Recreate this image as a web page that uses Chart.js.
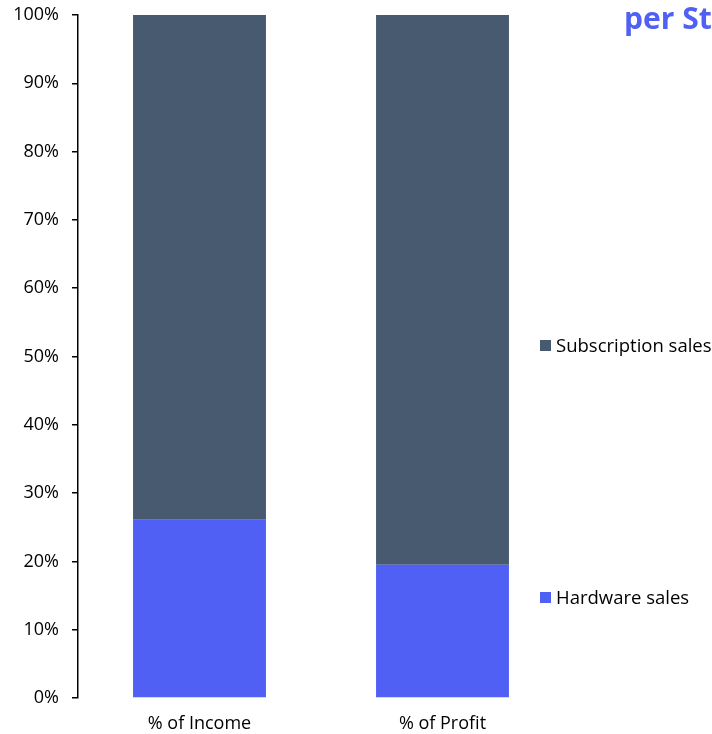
<!DOCTYPE html>
<html>
<head>
<meta charset="utf-8">
<script src="https://cdn.jsdelivr.net/npm/chart.js@4/dist/chart.umd.min.js"></script>
<style>
html,body{margin:0;padding:0;background:#fff;}
#wrap{width:712px;height:734px;position:relative;}
</style>
</head>
<body>
<div id="wrap"><canvas id="c" width="712" height="734"></canvas></div>
<script>
const categories = ["% of Income", "% of Profit"];
const hardwareSales = [0.261, 0.195];
const subscriptionSales = [0.739, 0.805];
const seriesNames = ["Hardware sales", "Subscription sales"];
const titleText = "per St";

const FONT = "'Open Sans', 'Liberation Sans', sans-serif";
const BLUE = "#5060F5";
const SLATE = "#475A70";

const overlay = {
  id: 'overlay',
  afterDraw(chart) {
    const ctx = chart.ctx;
    ctx.save();
    ctx.fillStyle = BLUE;
    ctx.font = "bold 30px " + FONT;
    ctx.textAlign = 'left';
    ctx.textBaseline = 'alphabetic';
    ctx.fillText(titleText, 624, 29);
    ctx.font = "18.5px " + FONT;
    const entries = [
      {name: seriesNames[1], color: SLATE, y: 352},
      {name: seriesNames[0], color: BLUE, y: 604}
    ];
    entries.forEach(e => {
      ctx.fillStyle = e.color;
      ctx.fillRect(540, e.y - 12, 11, 11);
      ctx.fillStyle = '#000';
      ctx.fillText(e.name, 556, e.y);
    });
    ctx.restore();
  }
};

new Chart(document.getElementById('c'), {
  type: 'bar',
  data: {
    labels: categories,
    datasets: [
      {label: seriesNames[0], data: hardwareSales, backgroundColor: BLUE, borderWidth: 0},
      {label: seriesNames[1], data: subscriptionSales, backgroundColor: SLATE, borderWidth: 0}
    ]
  },
  options: {
    responsive: false,
    animation: false,
    categoryPercentage: 1,
    barPercentage: 0.547,
    layout: {padding: {top: 15, right: 148, bottom: 0, left: 0}},
    plugins: {legend: {display: false}, tooltip: {enabled: false}, title: {display: false}},
    scales: {
      x: {
        stacked: true,
        afterFit(s) { s.height = 36; s.paddingLeft = 0; s.paddingRight = 0; },
        grid: {display: false},
        border: {display: false},
        ticks: {color: '#000', font: {family: FONT, size: 18}, padding: 7}
      },
      y: {
        stacked: true,
        min: 0, max: 1,
        afterFit(s) { s.width = 78; s.paddingTop = 0; s.paddingBottom = 0; },
        grid: {drawOnChartArea: false, drawTicks: true, tickLength: 6, color: '#000', lineWidth: 1.5},
        border: {display: true, color: '#000', width: 1.5},
        ticks: {
          stepSize: 0.1,
          color: '#000',
          padding: 13,
          font: {family: FONT, size: 18},
          callback: v => Math.round(v * 100) + '%'
        }
      }
    }
  },
  plugins: [overlay]
});
</script>
</body>
</html>
